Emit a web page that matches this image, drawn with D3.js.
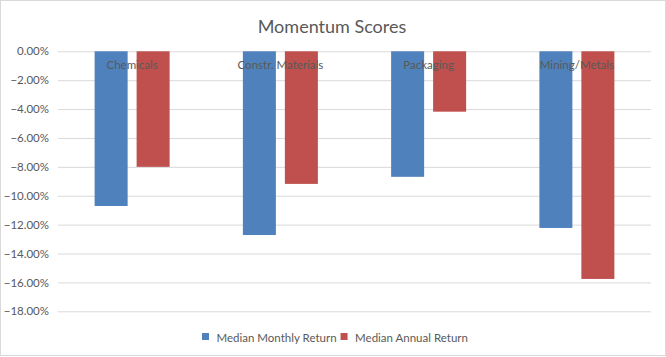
<!DOCTYPE html>
<html><head><meta charset="utf-8">
<script src="https://cdn.jsdelivr.net/npm/d3@7"></script>
<style>body{margin:0;background:#fff;}svg{display:block;font-family:Lato,"Open Sans",sans-serif;}</style>
</head><body><svg id="c" width="666" height="357"></svg>
<script>
const categories = ["Chemicals", "Constr. Materials", "Packaging", "Mining/Metals"];
const seriesNames = ["Median Monthly Return", "Median Annual Return"];
const monthly = [-0.1071, -0.1272, -0.0869, -0.1223];
const annual = [-0.0800, -0.0918, -0.0418, -0.1576];
const yTicks = [0, -0.02, -0.04, -0.06, -0.08, -0.10, -0.12, -0.14, -0.16, -0.18];
const colors = ["#4f81bd", "#c0504d"];

const svg = d3.select("#c");
const W = 666, H = 357;
const m = {left: 58, right: 15, top: 51.3, bottom: 45.7};
svg.append("rect").attr("x", 0.5).attr("y", 0.5).attr("width", W - 1).attr("height", H - 2)
  .attr("fill", "#fff").attr("stroke", "#d9d9d9");

const y = d3.scaleLinear().domain([0, -0.18]).range([m.top, 311.3]);
const x0 = d3.scaleBand().domain(categories).range([m.left, W - m.right]).paddingInner(0).paddingOuter(0);
const x1 = d3.scaleBand().domain(seriesNames).range([-37.5, 37.5]).paddingInner(0.214).paddingOuter(0);

const fmt = d3.format(".2%");
const yAxis = d3.axisLeft(y).tickValues(yTicks).tickFormat(fmt).tickSize(-(W - m.right - m.left)).tickPadding(9);
const gy = svg.append("g").attr("transform", `translate(${m.left},0)`).call(yAxis);
gy.select(".domain").remove();
gy.selectAll(".tick line").attr("stroke", "#d9d9d9").attr("stroke-width", 1);
gy.selectAll(".tick text").attr("fill", "#595959").style("font-size", "11.5px").style("font-family", "Lato,sans-serif");

const data = categories.map((c, i) => ({c, vals: [monthly[i], annual[i]]}));
const groups = svg.append("g").selectAll("g").data(data).join("g")
  .attr("transform", d => `translate(${x0(d.c) + x0.bandwidth() / 2},0)`);
groups.selectAll("rect").data(d => d.vals.map((v, j) => ({v, s: seriesNames[j], j}))).join("rect")
  .attr("x", d => x1(d.s)).attr("width", x1.bandwidth())
  .attr("y", d => y(0)).attr("height", d => y(d.v) - y(0))
  .attr("fill", d => colors[d.j]);

// category axis labels (positioned at zero line, drawn over bars)
const xAxis = d3.axisBottom(x0).tickSize(0).tickPadding(10);
const gx = svg.append("g").attr("transform", `translate(0,${y(0)})`).call(xAxis);
gx.select(".domain").remove();
gx.selectAll(".tick text").attr("fill", "#595959").style("font-size", "11.5px").style("font-family", "Lato,sans-serif");

svg.append("text").attr("x", 332).attr("y", 26).attr("text-anchor", "middle").attr("dominant-baseline", "central")
  .attr("fill", "#595959").style("font-size", "18px").text("Momentum Scores");

// legend
const leg = svg.append("g");
let lx = 202;
seriesNames.forEach((s, i) => {
  leg.append("rect").attr("x", lx).attr("y", 333).attr("width", 7).attr("height", 7).attr("fill", colors[i]);
  const t = leg.append("text").attr("x", lx + 14.5).attr("y", 337).attr("dominant-baseline", "central")
    .attr("fill", "#595959").style("font-size", "11.5px").text(s);
  lx = lx + 14.5 + t.node().getComputedTextLength() + 4;
});
</script></body></html>
